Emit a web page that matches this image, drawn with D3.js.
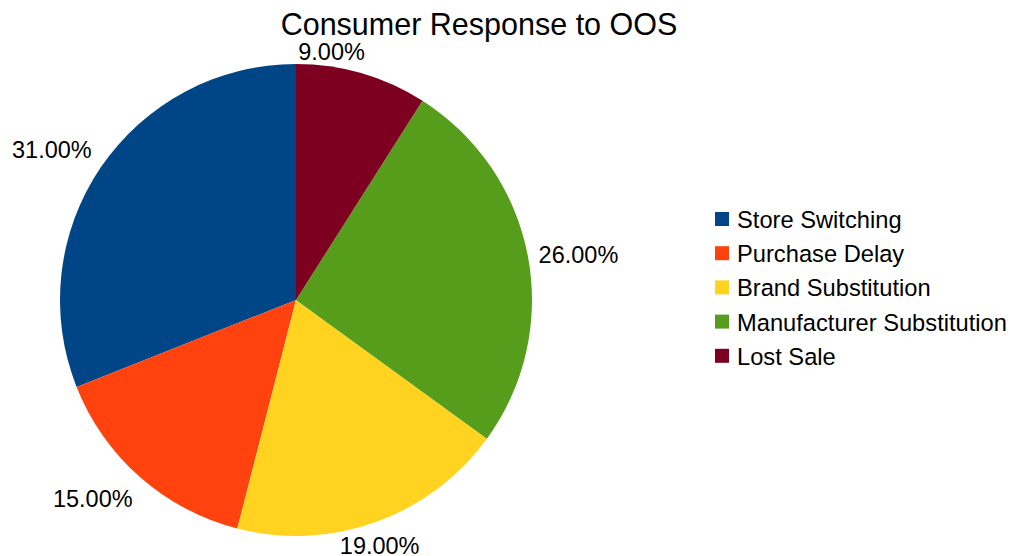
<!DOCTYPE html>
<html>
<head>
<meta charset="utf-8">
<script src="https://cdn.jsdelivr.net/npm/d3@7"></script>
<style>
  body { margin: 0; background: #fff; }
  text { font-family: 'Liberation Sans', Arial, sans-serif; fill: #000; }
</style>
</head>
<body>
<div id="chart"></div>
<script>
let categories = ['Store Switching', 'Purchase Delay', 'Brand Substitution', 'Manufacturer Substitution', 'Lost Sale']
let shares = [31, 15, 19, 26, 9]
let colors = ['#004586', '#ff420e', '#ffd320', '#579d1c', '#7e0021']

let width = 1013
let height = 556
let cx = 296
let cy = 300
let radius = 236

let svg = d3
  .select('#chart')
  .append('svg')
  .attr('width', width)
  .attr('height', height)

let data = categories.map((c, i) => ({ name: c, value: shares[i], color: colors[i] }))

// libreoffice draws slices counter-clockwise from 12 o'clock
let pie = d3.pie().sort(null).value(d => d.value).startAngle(0).endAngle(-2 * Math.PI)
let arc = d3.arc().innerRadius(0).outerRadius(radius)
let labelArc = d3.arc().innerRadius(radius + 11).outerRadius(radius + 11)

let g = svg.append('g').attr('transform', `translate(${cx},${cy})`)

g.selectAll('.slice')
  .data(pie(data))
  .enter()
  .append('path')
  .attr('class', 'slice')
  .attr('d', arc)
  .attr('fill', d => d.data.color)

// percent labels outside the pie
g.selectAll('.label')
  .data(pie(data))
  .enter()
  .append('text')
  .attr('class', 'label')
  .attr('font-size', 23.5)
  .each(function(d) {
    let [x, y] = labelArc.centroid(d)
    let a = (d.startAngle + d.endAngle) / 2
    let s = Math.sin(a)
    let c = Math.cos(a)
    let anchor = 'end'
    let base = y > 0 ? 'hanging' : 'alphabetic'
    if (Math.abs(s) > 0.9) { anchor = s > 0 ? 'start' : 'end'; base = 'central' }
    else if (c < -0.9) { anchor = 'middle'; base = 'hanging' }
    d3.select(this)
      .attr('x', x)
      .attr('y', base === 'hanging' ? y + 22 : (base === 'central' ? y + 9 : y - 3))
      .attr('text-anchor', anchor)
      .text(d3.format('.2f')(d.data.value) + '%')
  })

// title
svg
  .append('text')
  .text('Consumer Response to OOS')
  .attr('x', 479)
  .attr('y', 35)
  .attr('font-size', 30.5)
  .attr('text-anchor', 'middle')

// legend
let legendY = d3.scaleBand().domain(categories).range([202, 373])

let legend = svg
  .selectAll('.legend')
  .data(data)
  .enter()
  .append('g')
  .attr('class', 'legend')
  .attr('transform', d => `translate(715,${legendY(d.name)})`)

legend
  .append('rect')
  .attr('y', 10)
  .attr('width', 14)
  .attr('height', 14)
  .attr('fill', d => d.color)

legend
  .append('text')
  .attr('x', 22)
  .attr('y', 26)
  .attr('font-size', 23.7)
  .text(d => d.name)
</script>
</body>
</html>
